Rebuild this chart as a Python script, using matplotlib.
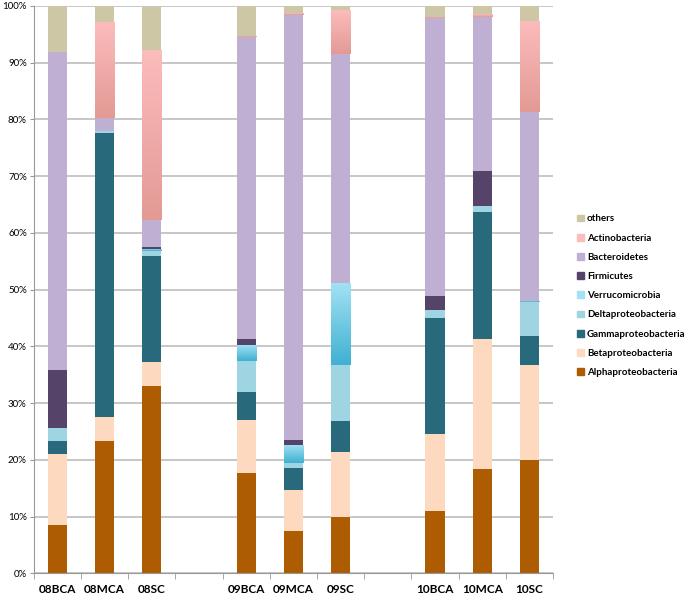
import numpy as np
import matplotlib
matplotlib.use("Agg")
import matplotlib.pyplot as plt
from matplotlib.colors import LinearSegmentedColormap

plt.rcParams['font.family'] = ['Lato', 'DejaVu Sans']

samples = ['08BCA', '08MCA', '08SC', '09BCA', '09MCA', '09SC', '10BCA', '10MCA', '10SC']

# percent of each taxon per sample (bottom to top)
alpha = [8.5, 23.3, 33.1, 17.7, 7.5, 10.0, 11.0, 18.4, 19.9]
beta = [12.6, 4.2, 4.2, 9.4, 7.2, 11.3, 13.6, 22.9, 16.9]
gamma = [2.2, 50.1, 18.6, 4.9, 3.9, 5.6, 20.4, 22.4, 5.0]
delta = [2.4, 0.4, 0.9, 5.4, 0.9, 9.8, 1.4, 1.0, 6.0]
verruco = [0.0, 0.0, 0.4, 2.9, 3.2, 14.5, 0.0, 0.0, 0.2]
firmicutes = [10.1, 0.0, 0.4, 1.0, 0.8, 0.0, 2.4, 6.3, 0.0]
bacteroidetes = [56.0, 2.3, 4.6, 53.2, 74.9, 40.3, 49.0, 27.1, 33.3]
actino = [0.0, 16.8, 30.1, 0.2, 0.3, 7.7, 0.3, 0.5, 16.1]
others = [8.2, 2.9, 7.6, 5.3, 1.3, 0.8, 1.9, 1.4, 2.6]

series = [
    ('Alphaproteobacteria', alpha, '#ad5c02', None),
    ('Betaproteobacteria', beta, '#fcd9bf', None),
    ('Gammaproteobacteria', gamma, '#28697b', None),
    ('Deltaproteobacteria', delta, '#9fd5e3', None),
    ('Verrucomicrobia', verruco, '#6cc6e3', ('#3fb1d2', '#a4e1f4')),
    ('Firmicutes', firmicutes, '#56436a', None),
    ('Bacteroidetes', bacteroidetes, '#bfb0d3', None),
    ('Actinobacteria', actino, '#f0aaa8', ('#e39a95', '#fbbcbc')),
    ('others', others, '#cdc7a5', None),
]

fig = plt.figure(figsize=(6.88, 5.96), dpi=100)
ax = fig.add_axes([0.049, 0.038, 0.755, 0.952])

# three groups of three with an empty slot between groups
x = np.array([i + i // 3 for i in range(len(samples))])
width = 0.41

bottom = np.zeros(len(samples))
for name, vals, color, grad in series:
    vals = np.array(vals)
    bars = ax.bar(x, vals, width, bottom=bottom, color=color, zorder=2, label=name)
    if grad is not None:
        # vertical gradient fill like the original spreadsheet chart
        cmap = LinearSegmentedColormap.from_list(name, list(grad))
        for b, v, b0 in zip(bars, vals, bottom):
            if v <= 0:
                continue
            b.set_facecolor('none')
            im = ax.imshow(np.linspace(0, 1, 64).reshape(-1, 1), cmap=cmap,
                           extent=[b.get_x(), b.get_x() + width, b0, b0 + v],
                           origin='lower', aspect='auto', zorder=2.1)
            im.set_clip_path(b)
    bottom += vals

ax.set_xlim(-0.5, 10.5)
ax.set_ylim(0, 100)
ax.set_aspect('auto')
ax.set_yticks(np.arange(0, 101, 10))
ax.set_yticklabels([f'{v}%' for v in range(0, 101, 10)], fontsize=7)
ax.yaxis.grid(True, color='#bdbdbd', linewidth=1.2, zorder=0)
ax.set_axisbelow(True)

ax.set_xticks(x)
ax.set_xticklabels(samples, fontsize=8.5, fontweight='bold')
ax.set_xticks(np.arange(-0.5, 11, 1), minor=True)
ax.tick_params(axis='x', which='major', length=0, pad=8)
ax.tick_params(axis='x', which='minor', length=4, color='#999999', direction='out')
ax.tick_params(axis='y', length=3, color='#999999', pad=2)

for side in ['top', 'right']:
    ax.spines[side].set_visible(False)
for side in ['left', 'bottom']:
    ax.spines[side].set_color('#999999')

leg_handles = [plt.Rectangle((0, 0), 1, 1, color=c if g is None else g[1])
               for _, _, c, g in series][::-1]
leg_labels = [s[0] for s in series][::-1]
leg = fig.legend(leg_handles, leg_labels, loc='upper left',
                 bbox_to_anchor=(0.826, 0.655), frameon=False,
                 prop={'size': 7, 'weight': 'bold'},
                 handlelength=0.7, handleheight=0.7, handletextpad=0.3,
                 labelspacing=1.05)

fig.savefig('out.png', dpi=100)
